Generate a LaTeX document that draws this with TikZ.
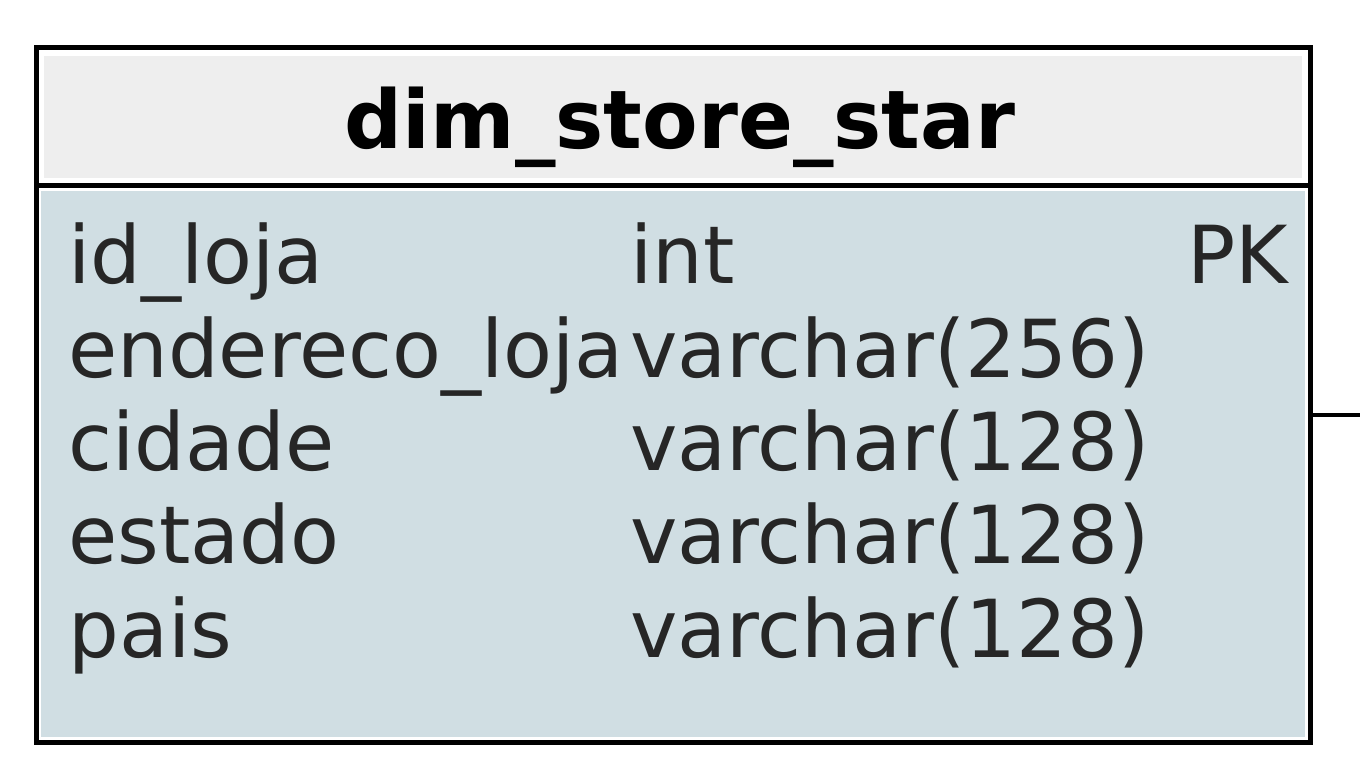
\documentclass[tikz,border=0pt]{standalone}
\usepackage{fontspec}
\setmainfont{DejaVu Sans}
\usetikzlibrary{positioning}
\definecolor{headgray}{HTML}{EEEEEE}
\definecolor{bodyblue}{HTML}{D0DEE3}
\begin{document}
\begin{tikzpicture}[x=1pt, y=-1pt,
    tbox/.style={rectangle, draw=black, line width=5pt, inner sep=0pt, outer sep=0pt, minimum width=1274pt},
    field/.style={anchor=base west, inner sep=0pt, font=\fontsize{80}{90}\selectfont, text=black!85}]
      \useasboundingbox (0,0) rectangle (1360,784);

      \node[tbox, minimum height=137pt](head) at (673,116.5){};
      \node[tbox, minimum height=557pt, below=0pt of head](body){};

      \fill[headgray] ([shift={(8,8)}]head.north west) rectangle ([shift={(-8,-7)}]head.south east);
      \fill[bodyblue] ([shift={(5,6)}]body.north west) rectangle ([shift={(-5,-5)}]body.south east);
      \draw[line width=5pt] (head.north west) rectangle (body.south east);
      \draw[line width=5pt] (head.south west) -- (head.south east);

      \node[anchor=base, inner sep=0pt, font=\bfseries\fontsize{81}{92}\selectfont](title) at (680,148){dim\_store\_star};

      \node[field](n1) at (68,283){id\_loja};
      \node[field](n2) at (68,377){endereco\_loja};
      \node[field](n3) at (68,470){cidade};
      \node[field](n4) at (68,563){estado};
      \node[field](n5) at (68,657){pais};

      \node[field](t1) at (630,283){int};
      \node[field](t2) at (630,377){varchar(256)};
      \node[field](t3) at (630,470){varchar(128)};
      \node[field](t4) at (630,563){varchar(128)};
      \node[field](t5) at (630,657){varchar(128)};

      \node[field, anchor=base east](pk) at (1288,283){PK};

      \coordinate (link) at (1360,415);
      \draw[line width=4pt] (body.east |- link) -- (link);
    \end{tikzpicture}
\end{document}
